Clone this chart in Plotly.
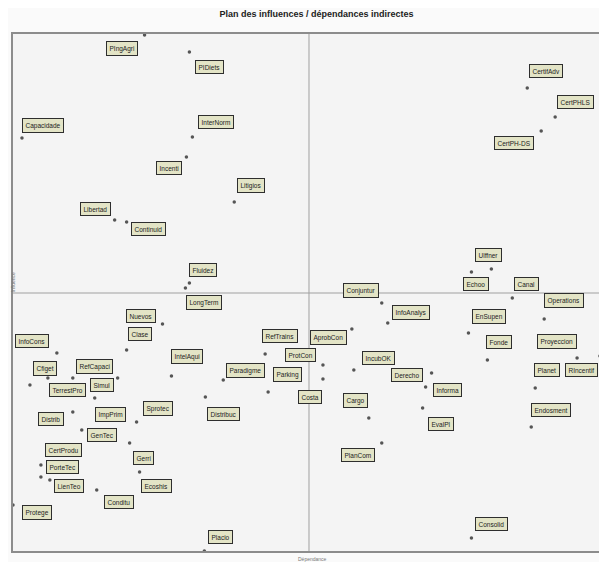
import plotly.graph_objects as go

# variables (dependance = x, influence = y)
names = ["PIngAgri", "PIDiets", "Capacidade", "InterNorm", "Incenti", "Litigios",
         "Libertad", "Continuid", "Fluidez", "LongTerm", "CertifAdv", "CertPHLS",
         "CertPH-DS", "Ulffner", "Echoo", "Canal", "Conjuntur", "Operations",
         "InfoAnalys", "EnSupen", "Fonde", "Proyeccion", "RIncentif", "Planet",
         "Endosment", "Consolid", "PlanCom", "Cargo", "EvalPl", "Informa",
         "Derecho", "IncubOK", "AprobCon", "ProtCon", "Costa", "RefTrains",
         "Parking", "Paradigme", "IntelAqui", "Distribuc", "Nuevos", "Clase",
         "InfoCons", "Cfiget", "RefCapaci", "TerrestPro", "Simul", "ImpPrim",
         "Distrib", "Sprotec", "GenTec", "Gerri", "CertProdu", "PorteTec",
         "LienTeo", "Ecoshis", "Conditu", "Protege", "Placio"]
dependance = [132, 177, 9, 180, 174, 222, 102, 114, 177, 173, 516, 544,
              530, 480, 460, 501, 370, 533, 376, 457, 476, 566, 589, 524,
              520, 460, 370, 357, 411, 420, 414, 342, 340, 311, 311, 253,
              256, 211, 159, 193, 150, 114, 44, 17, 105, 35, 60, 82,
              60, 124, 69, 117, 28, 28, 37, 127, 84, 0, 192]
influence = [516, 499, 413, 414, 394, 349, 331, 329, 268, 263, 463, 434,
             420, 282, 279, 253, 248, 232, 228, 218, 191, 193, 195, 163,
             124, 13, 108, 133, 143, 178, 164, 181, 222, 186, 172, 197,
             159, 171, 175, 154, 227, 201, 198, 166, 173, 173, 173, 153,
             139, 129, 121, 108, 86, 74, 71, 79, 61, 46, 0]

# label offsets from each point, in pixels
label_dx = [-23, 20, 21, 24, -17, 17, -19, 22, 14, 19, 19, 20,
            -27, -3, 5, 14, -21, 20, 23, 21, 12, -20, -19, 12,
            20, 20, -24, -13, 18, 16, -19, 25, -23, -22, -13, 15,
            19, 22, 16, 18, -21, 13, -25, 15, -23, 20, 29, 16,
            -22, 21, 20, 14, 23, 22, 19, 17, 22, 24, 16]
label_dy = [-13, -15, 13, 15, -11, 17, 11, -7, 13, -14, 17, 15,
            -12, 14, -12, 14, 13, 19, 11, 17, 18, 17, -14, 18,
            17, 14, -12, 18, -16, -17, 12, 12, -8, 10, -18, 18,
            18, 10, 20, -17, 8, 16, 12, 17, 12, -12, -7, -16,
            -7, 14, -5, -15, 15, 10, -6, -14, -12, -7, 14]

cross_x = 297
cross_y = 258

FONT = "Liberation Sans Narrow, Arial Narrow, Arial"

fig = go.Figure()
fig.add_trace(go.Scatter(x=dependance, y=influence, mode="markers", cliponaxis=False,
                         marker=dict(size=3.5, color="#555555"), hoverinfo="text",
                         text=names, showlegend=False))

# khaki label boxes
for i in range(len(names)):
    fig.add_annotation(x=dependance[i], y=influence[i], text=names[i], showarrow=False,
                       xshift=label_dx[i], yshift=label_dy[i],
                       font=dict(size=6.5, color="#222222", family=FONT),
                       bgcolor="#e3e4c6", bordercolor="#2e2e2e", borderwidth=1, borderpad=2.5)

fig.add_shape(type="line", x0=cross_x, x1=cross_x, y0=0, y1=517,
              line=dict(color="#a0a0a0", width=1))
fig.add_shape(type="line", x0=0, x1=590, y0=cross_y, y1=cross_y,
              line=dict(color="#a0a0a0", width=1))

fig.add_annotation(text="Influence", xref="paper", yref="paper", x=-0.008, y=0.52,
                   textangle=-90, showarrow=False,
                   font=dict(size=5, color="#777777", family=FONT))
fig.add_annotation(text="Dépendance", xref="paper", yref="paper", x=0.51, y=-0.006,
                   yanchor="top", showarrow=False,
                   font=dict(size=5, color="#777777", family=FONT))

# page body keeps an 8px margin, so the figure is a bit smaller than the window
fig.update_layout(
    width=599, height=554,
    margin=dict(l=5, r=4, t=26, b=11),
    title=dict(text="<b>Plan des influences / dépendances indirectes</b>",
               x=0.515, xanchor="center", yref="container", y=0.99, yanchor="middle",
               font=dict(size=9, color="#222222", family=FONT)),
    paper_bgcolor="#fafafa", plot_bgcolor="#f4f4f4",
    xaxis=dict(range=[0, 590], showgrid=False, zeroline=False, showticklabels=False,
               ticks="", showline=True, mirror=True, linecolor="#8c8c8c", linewidth=2),
    yaxis=dict(range=[0, 517], showgrid=False, zeroline=False, showticklabels=False,
               ticks="", showline=True, mirror=True, linecolor="#8c8c8c", linewidth=2),
)

fig.write_html("out.html")
